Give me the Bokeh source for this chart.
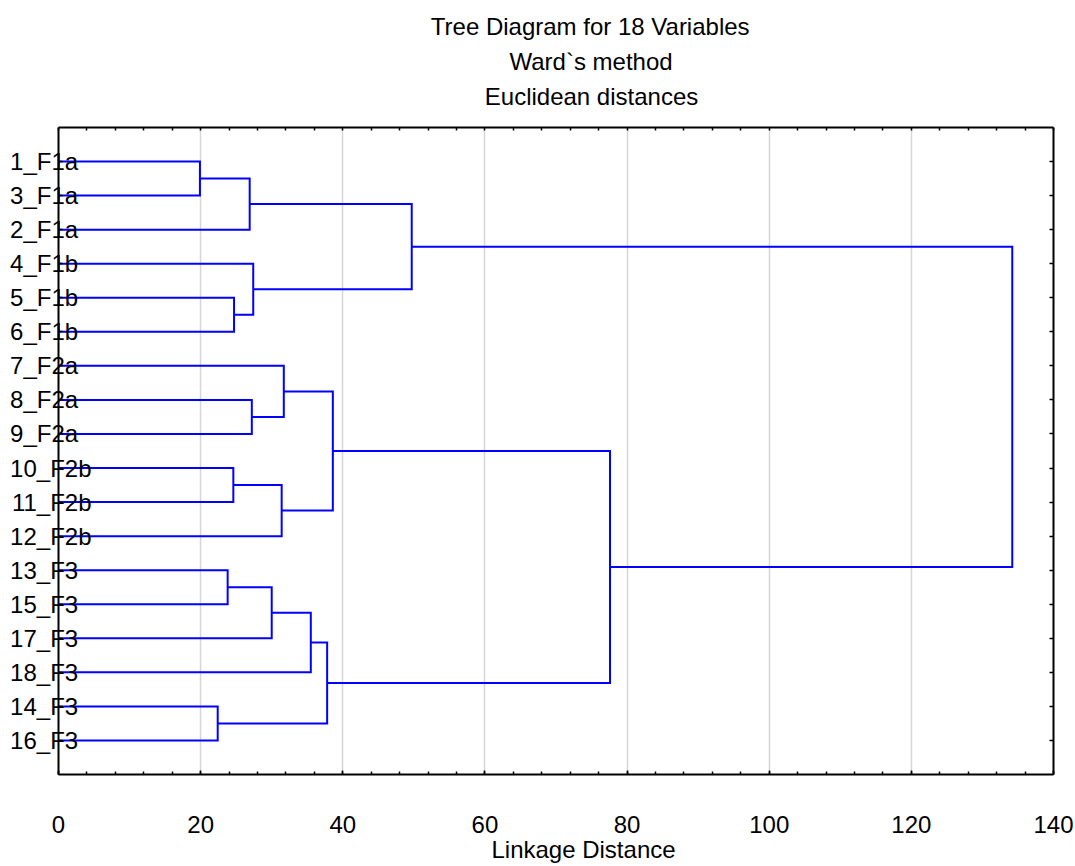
from bokeh.plotting import figure
from bokeh.models import (Range1d, LinearAxis, FixedTicker, Title)
from bokeh.embed import file_html
from bokeh.resources import INLINE

# ---------------- data ----------------
leaves = ["1_F1a", "3_F1a", "2_F1a", "4_F1b", "5_F1b", "6_F1b",
          "7_F2a", "8_F2a", "9_F2a", "10_F2b", "11_F2b", "12_F2b",
          "13_F3", "15_F3", "17_F3", "18_F3", "14_F3", "16_F3"]
# merges: cluster ids 0..17 are leaves (display order), new clusters get 18, 19, ...
merge_a = [0, 18, 4, 3, 19, 7, 6, 9, 25, 24, 12, 28, 29, 16, 30, 27, 22]
merge_b = [1, 2, 5, 20, 21, 8, 23, 10, 11, 26, 13, 14, 15, 17, 31, 32, 33]
merge_h = [19.9, 26.9, 24.7, 27.4, 49.7, 27.2, 31.7, 24.6, 31.4, 38.6,
           23.8, 30.0, 35.5, 22.4, 37.8, 77.6, 134.2]
x_ticks = [0, 20, 40, 60, 80, 100, 120, 140]
x_tick_labels = ["0", "20", "40", "60", "80", "100", "120", "140"]
titles = ["Tree Diagram for 18 Variables", "Ward`s method", "Euclidean distances"]
x_title = "Linkage Distance"

# ---------------- layout ----------------
W, H = 1075, 866
FL, FR, FT, FB = 58, 1053, 127, 774   # frame edges in canvas px
XMAX, YMAX = 140, 19
FONT = "Liberation Sans"
FS = "24px"
FSN = 24
NBSP = "\u00a0"

# Arial / Liberation Sans advance widths (per 1000 em)
AW = {"T": 611, "r": 333, "e": 556, " ": 278, "D": 722, "i": 222, "a": 556,
      "g": 556, "m": 833, "f": 278, "o": 556, "V": 667, "b": 556, "l": 222,
      "s": 500, "W": 944, "d": 556, "`": 333, "t": 278, "h": 556, "E": 667,
      "u": 556, "c": 500, "n": 556, "k": 500, "L": 556, "_": 556, "F": 611,
      NBSP: 278}


def text_w(s):
    return sum(AW.get(c, 556) for c in s) * FSN / 1000.0


n = len(leaves)
leaf_y = [n - i for i in range(n)]

# build dendrogram elbows
pos_x = {i: 0.0 for i in range(n)}
pos_y = {i: leaf_y[i] for i in range(n)}
xs, ys = [], []
for k, (a, b, h) in enumerate(zip(merge_a, merge_b, merge_h)):
    xs.append([pos_x[a], h, h, pos_x[b]])
    ys.append([pos_y[a], pos_y[a], pos_y[b], pos_y[b]])
    cid = n + k
    pos_x[cid] = h
    pos_y[cid] = (pos_y[a] + pos_y[b]) / 2.0

p = figure(width=W, height=H, output_backend="svg", toolbar_location=None,
           x_range=Range1d(0, XMAX), y_range=Range1d(0, YMAX),
           min_border_left=FL, min_border_right=W - FR,
           min_border_top=FT, min_border_bottom=H - FB)
p.background_fill_color = "white"
p.border_fill_color = "white"
p.outline_line_color = None

p.xgrid.ticker = FixedTicker(ticks=x_ticks[1:-1])
p.xgrid.grid_line_color = "#d6d6d6"
p.xgrid.grid_line_width = 1.5
p.ygrid.grid_line_color = None

minor_x = [v for v in range(0, XMAX + 1, 4)]


def style_axis(ax, minor=True):
    ax.axis_line_color = "black"
    ax.axis_line_width = 2
    ax.major_tick_line_color = "black"
    ax.major_tick_line_width = 1.5
    ax.major_tick_in = 4
    ax.major_tick_out = 0
    ax.minor_tick_line_color = "black" if minor else None
    ax.minor_tick_line_width = 1.5
    ax.minor_tick_in = 3
    ax.minor_tick_out = 0
    ax.major_label_text_font = FONT
    ax.major_label_text_font_size = FS
    ax.major_label_text_color = "black"
    ax.axis_label = None


# bottom axis: tick labels 0..140
p.xaxis.ticker = FixedTicker(ticks=x_ticks, minor_ticks=minor_x)
style_axis(p.xaxis[0])
p.xaxis.major_label_overrides = {v: s for v, s in zip(x_ticks, x_tick_labels)}
p.xaxis.major_label_standoff = 41

# left axis: leaf names, left-aligned at x=10 and overlapping the spine
max_w = max(text_w(s) for s in leaves)
padded = [s + NBSP * int(round((max_w - text_w(s)) / text_w(NBSP))) for s in leaves]
p.yaxis.ticker = FixedTicker(ticks=leaf_y)
style_axis(p.yaxis[0], minor=False)
p.yaxis.major_label_overrides = {v: s for v, s in zip(leaf_y, padded)}
p.yaxis.major_label_standoff = int(round(FL - (10 + max_w)))

# top axis: short inward ticks every 4 units; the (invisible) outer major tick
# length reserves the gap between the frame and the title lines
top = LinearAxis(ticker=FixedTicker(ticks=x_ticks, minor_ticks=minor_x))
style_axis(top)
top.major_tick_line_color = None
top.major_tick_out = 18
top.major_label_overrides = {v: "" for v in x_ticks}
top.major_label_standoff = 0
p.add_layout(top, "above")

right = LinearAxis(ticker=FixedTicker(ticks=leaf_y))
style_axis(right, minor=False)
right.major_label_overrides = {v: "" for v in leaf_y}
right.major_label_standoff = 0
p.add_layout(right, "right")

p.multi_line(xs, ys, line_color="#0000ff", line_width=2, line_join="miter")

# axis title below, centred at x=583
p.add_layout(Title(text=x_title, align="left", offset=583 - FL - text_w(x_title) / 2,
                   text_font=FONT, text_font_size=FS, text_font_style="normal",
                   text_color="black", standoff=-3), "below")

# three title lines above (added from the frame outward), centred at x=591
for t, so in zip(reversed(titles), [0, 11, 2]):
    p.add_layout(Title(text=t, align="left", offset=591 - FL - text_w(t) / 2,
                       text_font=FONT, text_font_size=FS, text_font_style="normal",
                       text_color="black", standoff=so), "above")

open("out.html", "w").write(file_html(p, INLINE))
